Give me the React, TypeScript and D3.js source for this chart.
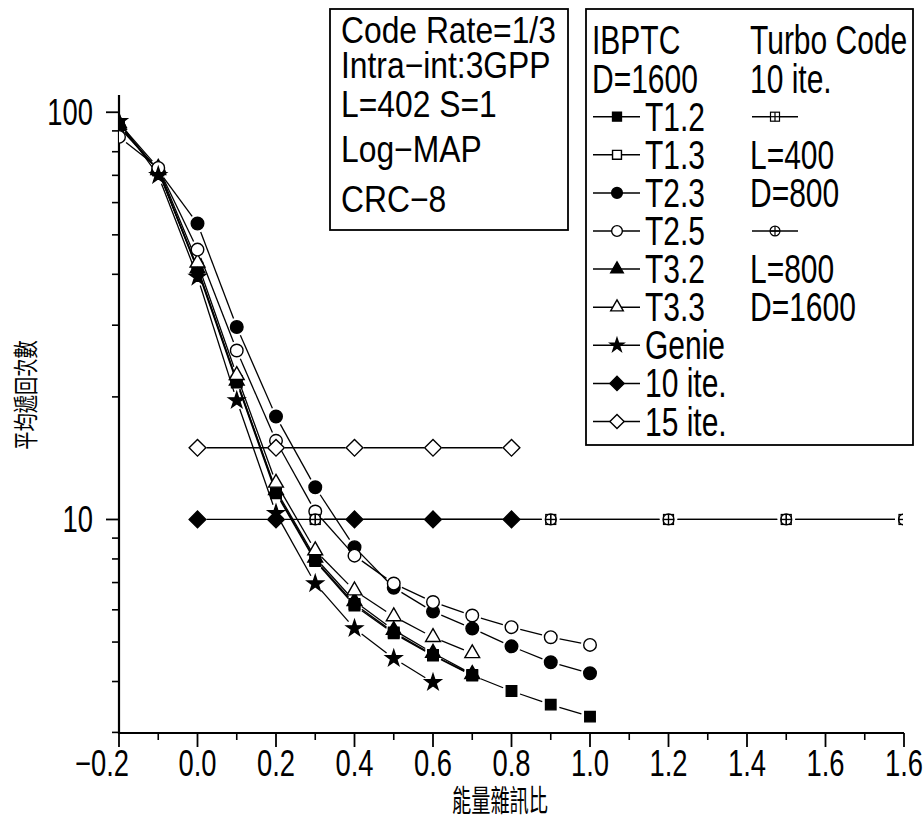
import * as d3 from "d3";

// x values (Eb/No) shared by the IBPTC curves
const snr = [-0.2, -0.1, 0.0, 0.1, 0.2, 0.3, 0.4, 0.5, 0.6, 0.7, 0.8, 0.9, 1.0];

// average iteration counts
const t12 = [93, 72, 41, 21.7, 11.6, 7.9, 6.15, 5.25, 4.63, 4.14, 3.79, 3.51, 3.28];
const t13 = [93, 72, 41.5, 21.9, 11.7, 7.95, 6.2, 5.28, 4.65, 4.15];
const t23 = [92, 72, 53.3, 29.7, 17.9, 12.0, 8.55, 6.8, 5.94, 5.4, 4.88, 4.46, 4.19];
const t25 = [87, 73, 46, 26, 15.6, 10.46, 8.15, 6.96, 6.27, 5.81, 5.44, 5.14, 4.92];
const t32 = [93, 72, 41.3, 21.9, 11.8, 8.05, 6.3, 5.35, 4.7, 4.17];
const t33 = [94, 73, 42.7, 22.6, 12.3, 8.39, 6.69, 5.78, 5.14, 4.69];
const genie = [95, 70, 39.4, 19.6, 10.36, 6.96, 5.4, 4.56, 3.98];

const iteSnr = [0.0, 0.2, 0.4, 0.6, 0.8];
const ite10 = [10, 10, 10, 10, 10];
const ite15 = [15, 15, 15, 15, 15];

const turboSnr = [0.3, 0.9, 1.2, 1.5, 1.8];
const turboL400 = [10, 10, 10, 10, 10];
const turboL800 = [10, 10, 10, 10, 10];

const xTicks = [-0.2, 0.0, 0.2, 0.4, 0.6, 0.8, 1.0, 1.2, 1.4, 1.6, 1.8];
const xTickLabels = ["\u22120.2", "0.0", "0.2", "0.4", "0.6", "0.8", "1.0", "1.2", "1.4", "1.6", "1.6"];
const xMinorTicks = [-0.1, 0.1, 0.3, 0.5, 0.7, 0.9, 1.1, 1.3, 1.5, 1.7];
const yTicks = [10, 100];
const yTickLabels = ["10", "100"];
const yMinorTicks = [3, 4, 5, 6, 7, 8, 9, 20, 30, 40, 50, 60, 70, 80, 90];

const infoLines = ["Code Rate=1/3", "Intra\u2212int:3GPP", "L=402 S=1", "Log\u2212MAP", "CRC\u22128"];
const turboLines = ["Turbo Code", "10 ite."];

const FONT = "'Liberation Sans', Arial, Helvetica, sans-serif";
const CJK = "'Noto Sans CJK TC', 'Noto Sans CJK SC', sans-serif";

type Mark = "sqF" | "sqO" | "ciF" | "ciO" | "trF" | "trO" | "star" | "diF" | "diO" | "boxPlus" | "circPlus";

const series: { label: string; xs: number[]; ys: number[]; mark: Mark }[] = [
    { label: "T1.3", xs: snr, ys: t13, mark: "sqO" },
    { label: "T1.2", xs: snr, ys: t12, mark: "sqF" },
    { label: "T3.2", xs: snr, ys: t32, mark: "trF" },
    { label: "T3.3", xs: snr, ys: t33, mark: "trO" },
    { label: "T2.3", xs: snr, ys: t23, mark: "ciF" },
    { label: "T2.5", xs: snr, ys: t25, mark: "ciO" },
    { label: "Genie", xs: snr, ys: genie, mark: "star" },
    { label: "15 ite.", xs: iteSnr, ys: ite15, mark: "diO" },
    { label: "10 ite.", xs: iteSnr, ys: ite10, mark: "diF" },
    { label: "L=400", xs: turboSnr, ys: turboL400, mark: "boxPlus" },
    { label: "L=800", xs: turboSnr, ys: turboL800, mark: "circPlus" },
];

const legendOrder: [string, Mark][] = [
    ["T1.2", "sqF"],
    ["T1.3", "sqO"],
    ["T2.3", "ciF"],
    ["T2.5", "ciO"],
    ["T3.2", "trF"],
    ["T3.3", "trO"],
    ["Genie", "star"],
    ["10 ite.", "diF"],
    ["15 ite.", "diO"],
];
const turboLegend: [number, string, Mark | null][] = [
    [0, "", "boxPlus"],
    [1, "L=400", null],
    [2, "D=800", null],
    [3, "", "circPlus"],
    [4, "L=800", null],
    [5, "D=1600", null],
];

const x = d3.scaleLinear().domain([-0.2, 1.8]).range([119, 904]);
const y = d3.scaleLog().domain([3, 110]).range([732.4, 95.4]);

function Marker({ type, cx, cy, k = 1 }: { type: Mark; cx: number; cy: number; k?: number }) {
    const filled = type.endsWith("F") || type === "star";
    const fill = filled ? "#000" : "#fff";
    const common = { fill, stroke: "#000", strokeWidth: 1.4 };
    const t = `translate(${cx},${cy})`;
    switch (type) {
        case "sqF":
        case "sqO":
            return <path transform={t} d={d3.symbol(d3.symbolSquare, 110 * k * k)()!} {...common} />;
        case "ciF":
        case "ciO":
            return <circle cx={cx} cy={cy} r={6.3 * k} {...common} />;
        case "trF":
        case "trO":
            return <path transform={t} d={d3.symbol(d3.symbolTriangle, 95 * k * k)()!} {...common} />;
        case "star":
            return <path transform={t} d={d3.symbol(d3.symbolStar, 80 * k * k)()!} {...common} />;
        case "diF":
        case "diO":
            return (
                <path transform={`${t} rotate(45)`} d={d3.symbol(d3.symbolSquare, 140 * k * k)()!} {...common} />
            );
        case "boxPlus": {
            const h = 5 * k;
            return (
                <g transform={t} stroke="#000" strokeWidth={1.2} fill="#fff">
                    <rect x={-h} y={-h} width={2 * h} height={2 * h} />
                    <line x1={-h} x2={h} y1={0} y2={0} />
                    <line x1={0} x2={0} y1={-h} y2={h} />
                </g>
            );
        }
        case "circPlus": {
            const r = 5.5 * k;
            return (
                <g transform={t} stroke="#000" strokeWidth={1.2} fill="none">
                    <circle r={r} />
                    <line x1={-r} x2={r} y1={0} y2={0} />
                    <line x1={0} x2={0} y1={-r} y2={r} />
                </g>
            );
        }
    }
    return null;
}

function segments(xs: number[], ys: number[], gap: number) {
    const out: [number, number, number, number][] = [];
    for (let i = 0; i < ys.length - 1; i++) {
        const x0 = x(xs[i]);
        const y0 = y(ys[i]);
        const x1 = x(xs[i + 1]);
        const y1 = y(ys[i + 1]);
        const dx = x1 - x0;
        const dy = y1 - y0;
        const len = Math.hypot(dx, dy);
        if (len <= 2 * gap) continue;
        const ux = dx / len;
        const uy = dy / len;
        out.push([x0 + ux * gap, y0 + uy * gap, x1 - ux * gap, y1 - uy * gap]);
    }
    return out;
}

function Txt({
    tx,
    ty,
    s,
    size,
    anchor = "start",
    children,
}: {
    tx: number;
    ty: number;
    s: number;
    size: number;
    anchor?: string;
    children: any;
}) {
    return (
        <text transform={`translate(${tx},${ty}) scale(${s},1)`} fontSize={size} textAnchor={anchor} fontFamily={FONT}>
            {children}
        </text>
    );
}

export default function App() {
    const rowY = (i: number) => 116.7 + 38.1 * i;

    return (
        <svg
            width={923}
            height={828}
            style={{ position: "absolute", left: 0, top: 0, background: "#fff" }}
        >
            <defs>
                <clipPath id="plotClip">
                    <rect x={119} y={0} width={784} height={733} />
                </clipPath>
            </defs>

            {/* axes */}
            <line x1={118} x2={904} y1={733} y2={733} stroke="#000" strokeWidth={2.2} />
            <line x1={119} x2={119} y1={95} y2={734} stroke="#000" strokeWidth={2.2} />

            {xTicks.map((v, i) => (
                <g key={"xt" + i}>
                    <line x1={x(v)} x2={x(v)} y1={733} y2={747} stroke="#000" strokeWidth={1.8} />
                    <Txt
                        tx={i === 0 ? x(v) + 10 : x(v)}
                        ty={776}
                        s={0.74}
                        size={37}
                        anchor={i === 0 ? "end" : "middle"}
                    >
                        {xTickLabels[i]}
                    </Txt>
                </g>
            ))}
            {xMinorTicks.map((v) => (
                <line key={"xm" + v} x1={x(v)} x2={x(v)} y1={733} y2={740} stroke="#000" strokeWidth={1.6} />
            ))}

            {yTicks.map((v, i) => (
                <g key={"yt" + v}>
                    <line x1={106} x2={119} y1={y(v)} y2={y(v)} stroke="#000" strokeWidth={1.8} />
                    <Txt tx={93} ty={y(v) + 13} s={0.74} size={37} anchor="end">
                        {yTickLabels[i]}
                    </Txt>
                </g>
            ))}
            {yMinorTicks.map((v) => (
                <line key={"ym" + v} x1={112} x2={119} y1={y(v)} y2={y(v)} stroke="#000" strokeWidth={1.6} />
            ))}

            <text
                transform="translate(500,811) scale(0.64,1)"
                fontSize={30}
                textAnchor="middle"
                fontFamily={CJK}
            >
                能量雜訊比
            </text>
            <text
                transform="translate(35,395) rotate(-90) scale(0.73,1)"
                fontSize={25}
                textAnchor="middle"
                fontFamily={CJK}
            >
                平均遞回次數
            </text>

            {/* data */}
            <g clipPath="url(#plotClip)">
                {series.map((s) =>
                    segments(s.xs, s.ys, 9).map((g, j) => (
                        <line
                            key={s.label + "l" + j}
                            x1={g[0]}
                            y1={g[1]}
                            x2={g[2]}
                            y2={g[3]}
                            stroke="#000"
                            strokeWidth={1.3}
                        />
                    ))
                )}
                {series.map((s) =>
                    s.ys.map((v, j) => (
                        <Marker key={s.label + "m" + j} type={s.mark} cx={x(s.xs[j])} cy={y(v)} />
                    ))
                )}
            </g>

            {/* info box */}
            <rect x={330} y={9} width={238} height={221} fill="#fff" stroke="#000" strokeWidth={1.8} />
            {infoLines.map((t, i) => (
                <Txt key={t} tx={341} ty={[43, 78, 117, 162, 212][i]} s={0.86} size={37}>
                    {t}
                </Txt>
            ))}

            {/* legend box */}
            <rect x={586} y={9} width={327} height={436} fill="#fff" stroke="#000" strokeWidth={1.8} />
            <Txt tx={592} ty={rowY(-2) + 13} s={0.75} size={40}>
                IBPTC
            </Txt>
            <Txt tx={592} ty={rowY(-1) + 14} s={0.75} size={40}>
                D=1600
            </Txt>
            {turboLines.map((t, i) => (
                <Txt key={t} tx={750} ty={rowY(i - 2) + 13 + i} s={0.75} size={40}>
                    {t}
                </Txt>
            ))}
            {legendOrder.map(([label, mark], i) => (
                <g key={label}>
                    <line x1={593} x2={640} y1={rowY(i)} y2={rowY(i)} stroke="#000" strokeWidth={1.5} />
                    <Marker type={mark} cx={617} cy={rowY(i)} k={0.85} />
                    <Txt tx={645} ty={rowY(i) + 14} s={0.75} size={40}>
                        {label}
                    </Txt>
                </g>
            ))}
            {turboLegend.map(([row, label, mark]) =>
                mark ? (
                    <g key={"tl" + row}>
                        <line x1={752} x2={798} y1={rowY(row)} y2={rowY(row)} stroke="#000" strokeWidth={1.5} />
                        <Marker type={mark} cx={775} cy={rowY(row)} k={0.9} />
                    </g>
                ) : (
                    <Txt key={"tl" + row} tx={750} ty={rowY(row) + 14} s={0.75} size={40}>
                        {label}
                    </Txt>
                )
            )}
        </svg>
    );
}
